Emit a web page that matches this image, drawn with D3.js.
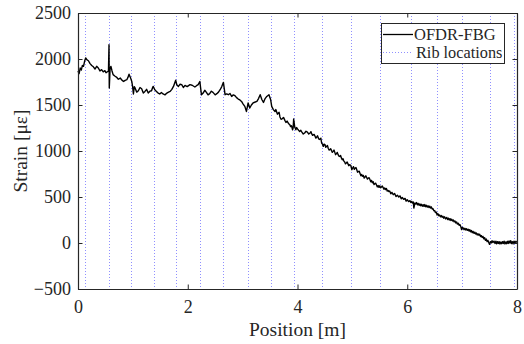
<!DOCTYPE html>
<html>
<head>
<meta charset="utf-8">
<script src="https://cdn.jsdelivr.net/npm/d3@7/dist/d3.min.js"></script>
<style>
  html, body { margin: 0; padding: 0; background: #fff; }
  svg { display: block; }
</style>
</head>
<body>
<svg id="chart" width="524" height="344"></svg>
<script>
// ---------- data ----------
const positions = [
  0.00,0.02,0.04,0.06,0.08,0.10,0.12,0.14,0.165,0.19,0.22,0.25,0.28,0.31,0.34,0.37,0.40,0.43,0.46,0.49,
  0.51,0.53,0.555,0.565,0.57,0.585,0.60,0.62,0.64,0.67,0.70,0.735,0.77,0.80,0.83,0.86,0.89,0.91,0.93,0.955,
  0.98,0.995,1.01,1.025,1.04,1.07,1.10,1.13,1.16,1.19,1.22,1.25,1.28,1.31,1.34,1.36,1.37,1.40,1.43,1.46,
  1.49,1.52,1.55,1.585,1.62,1.65,1.68,1.71,1.74,1.78,1.80,1.83,1.86,1.89,1.92,1.95,1.99,2.04,2.08,2.13,
  2.16,2.19,2.22,2.25,2.28,2.31,2.34,2.37,2.40,2.43,2.46,2.50,2.53,2.56,2.59,2.62,2.65,2.68,2.71,2.74,
  2.77,2.80,2.83,2.86,2.89,2.92,2.95,2.98,3.01,3.04,3.07,3.10,3.13,3.16,3.19,3.22,3.26,3.29,3.32,3.35,
  3.38,3.41,3.44,3.48,3.51,3.53,3.56,
  3.59,3.605,3.62,3.635,3.65,3.665,3.68,3.70,3.72,3.745,
  3.77,3.79,3.81,3.835,3.86,3.875,3.89,3.90,3.91,3.92,
  3.93,3.95,3.97,3.985,4.00,4.02,4.04,4.06,4.08,4.105,
  4.13,4.155,4.18,4.205,4.23,4.245,4.26,4.275,4.29,4.305,
  4.32,4.335,4.35,4.365,4.38,4.395,4.41,4.425,4.44,4.455,
  4.47,4.485,4.50,4.515,4.53,4.545,4.56,4.575,4.59,4.605,
  4.62,4.635,4.65,4.665,4.68,4.695,4.71,4.725,4.74,4.755,
  4.77,4.785,4.80,4.815,4.83,4.845,4.86,4.875,4.89,4.905,
  4.92,4.935,4.95,4.97,4.99,5.005,5.02,5.035,5.05,5.065,
  5.08,5.095,5.11,5.125,5.14,5.155,5.17,5.185,5.20,5.215,
  5.23,5.245,5.26,5.275,5.29,5.305,5.32,5.335,5.35,5.365,
  5.38,5.395,5.41,5.425,5.44,5.455,5.47,5.485,5.50,5.515,
  5.53,5.545,5.56,5.575,5.59,5.605,5.62,5.635,5.65,5.665,
  5.68,5.70,5.72,5.745,5.77,5.795,5.82,5.845,5.87,5.89,
  5.91,5.935,5.96,5.98,6.00,6.025,6.05,6.065,6.08,6.095,
  6.11,6.12,6.14,6.155,6.17,6.185,6.20,6.215,6.23,6.245,
  6.26,6.275,6.29,6.305,6.32,6.335,6.35,6.365,6.38,6.395,
  6.41,6.425,6.44,6.455,6.47,6.485,6.50,6.515,6.53,6.545,
  6.56,6.575,6.59,6.605,6.62,6.635,6.65,6.665,6.68,6.70,
  6.72,6.735,6.75,6.765,6.78,6.795,6.81,6.825,6.84,6.855,
  6.87,6.885,6.90,6.915,6.93,6.945,6.96,6.975,6.99,7.005,
  7.02,7.035,7.05,7.065,7.08,7.095,7.11,7.125,7.14,7.155,
  7.17,7.185,7.20,7.215,7.23,7.245,7.26,7.275,7.29,7.305,
  7.32,7.335,7.35,7.365,7.38,7.395,7.41,7.425,7.44,7.455,
  7.47,7.485,7.50,7.515,7.53,7.545,7.56,7.58,7.60,7.615,
  7.63,7.645,7.66,7.675,7.69,7.705,7.72,7.735,7.75,7.765,
  7.78,7.795,7.81,7.825,7.84,7.855,7.87,7.885,7.90,7.915,
  7.93,7.945,7.96,7.98,8.00
];
const strain = [
  1870,1840,1902,1880,1930,1920,1975,2011,1990,1981,1950,1930,1915,1891,1920,1902,1870,1884,1860,1873,
  1850,1859,1870,2155,1685,1900,1920,1870,1830,1815,1804,1780,1793,1770,1756,1768,1775,1800,1835,1800,
  1756,1700,1620,1700,1685,1640,1655,1690,1677,1630,1648,1670,1630,1650,1655,1690,1702,1665,1648,1630,
  1620,1635,1620,1610,1630,1640,1648,1670,1702,1770,1720,1702,1725,1721,1690,1713,1700,1721,1715,1696,
  1710,1721,1756,1610,1630,1660,1637,1610,1623,1650,1637,1610,1623,1640,1666,1700,1746,1612,1620,1612,
  1625,1593,1610,1601,1580,1565,1555,1539,1510,1485,1430,1522,1467,1500,1522,1530,1539,1570,1612,1560,
  1528,1570,1593,1612,1560,1485,1450,
  1430,1450,1425,1400,1413,1420,1370,1345,1350,1365,
  1333,1310,1325,1300,1286,1265,1275,1255,1231,1250,
  1348,1260,1231,1255,1240,1225,1213,1225,1205,1185,
  1196,1215,1205,1185,1196,1210,1185,1170,1177,1180,
  1160,1140,1152,1165,1140,1125,1130,1140,1087,1075,
  1050,1075,1070,1040,1050,1060,1030,1010,1014,1025,
  1005,985,996,1010,985,960,971,985,960,945,
  941,950,925,905,915,890,880,860,869,880,
  860,840,851,845,797,815,830,800,815,820,
  795,770,778,780,755,730,745,725,735,705,
  717,730,712,695,706,710,690,665,680,655,
  665,635,644,650,630,610,625,605,622,600,
  609,620,603,585,598,580,592,565,572,560,
  565,535,550,525,538,505,520,500,512,480,
  495,475,485,455,470,450,460,440,452,435,
  445,380,435,425,440,415,430,410,425,405,
  420,400,416,398,418,395,410,390,405,385,
  400,380,392,370,372,350,352,330,335,305,
  318,295,305,285,298,280,290,270,285,262,
  278,255,270,250,265,245,258,240,250,230,
  240,218,228,205,215,192,200,180,145,170,
  163,145,160,142,155,138,150,130,145,122,
  135,112,126,105,118,98,109,88,100,85,
  95,70,80,60,72,45,58,30,43,15,
  28,5,-15,15,0,25,5,20,-5,20,
  -8,15,-5,15,-10,10,-8,15,-5,20,
  -10,12,-8,18,-5,22,0,25,-5,15,
  -10,20,0,18,5
];
const ribLocations = [0.13,0.56,0.97,1.38,1.79,2.23,2.65,3.09,3.51,3.94,4.45,4.98,5.51,6.07,6.55,7.00,7.51,7.94];
const xTicks = [0,2,4,6,8];
const yTicks = [-500,0,500,1000,1500,2000,2500];
const seriesName = "OFDR-FBG";
const ribName = "Rib locations";

// ---------- layout ----------
const FONT = "'Liberation Serif'";
const svg = d3.select("#chart");
const L = 78, R = 517, T = 13, B = 289;
const x = d3.scaleLinear().domain([0, 8]).range([L, R]);
const y = d3.scaleLinear().domain([-500, 2500]).range([B, T]);
const axisColor = "#262626";
const ribColor = "#8f8fff";

// rib lines
svg.append("g").selectAll("line").data(ribLocations).join("line")
  .attr("x1", d => Math.round(x(d)) + 0.5).attr("x2", d => Math.round(x(d)) + 0.5)
  .attr("y1", T).attr("y2", B)
  .attr("stroke", ribColor).attr("stroke-width", 1)
  .attr("stroke-dasharray", "1,2");

// data line
const n = Math.min(positions.length, strain.length);
const data = d3.range(n).map(i => [positions[i], strain[i]]);
svg.append("path").datum(data)
  .attr("fill", "none").attr("stroke", "#000").attr("stroke-width", 1.4)
  .attr("stroke-linejoin", "round")
  .attr("d", d3.line().x(d => x(d[0])).y(d => y(d[1])));

// axes
const tickLen = 4.5;
const gB = svg.append("g").attr("transform", `translate(0,${B})`)
  .call(d3.axisBottom(x).tickValues(xTicks).tickFormat(d3.format("d")).tickSizeInner(-tickLen).tickSizeOuter(0).tickPadding(11));
const gT = svg.append("g").attr("transform", `translate(0,${T})`)
  .call(d3.axisTop(x).tickValues(xTicks).tickFormat("").tickSizeInner(-tickLen).tickSizeOuter(0));
const gL = svg.append("g").attr("transform", `translate(${L},0)`)
  .call(d3.axisLeft(y).tickValues(yTicks).tickFormat(d3.format("d")).tickSizeInner(-tickLen).tickSizeOuter(0).tickPadding(7));
const gR = svg.append("g").attr("transform", `translate(${R},0)`)
  .call(d3.axisRight(y).tickValues(yTicks).tickFormat("").tickSizeInner(-tickLen).tickSizeOuter(0));
[gB, gT, gL, gR].forEach(g => {
  g.attr("font-family", null).attr("font-size", null);
  g.select(".domain").attr("stroke", axisColor).attr("stroke-width", 1.2);
  g.selectAll(".tick line").attr("stroke", axisColor).attr("stroke-width", 1);
  g.selectAll("text").style("font-family", FONT).style("font-size", "18px").attr("fill", axisColor);
});
gB.selectAll("text").attr("dy", "0.71em");

// axis titles
svg.append("text").attr("x", (L + R) / 2).attr("y", 336)
  .attr("text-anchor", "middle").style("font-family", FONT).style("font-size", "19.5px")
  .attr("fill", axisColor).text("Position [m]");
svg.append("text").attr("transform", `translate(27,${(T + B) / 2}) rotate(-90)`)
  .attr("text-anchor", "middle").style("font-family", FONT).style("font-size", "19.5px")
  .attr("fill", axisColor).text("Strain [με]");

// legend
const lg = svg.append("g");
lg.append("rect").attr("x", 381.5).attr("y", 23.5).attr("width", 123).attr("height", 40)
  .attr("fill", "#fff").attr("stroke", axisColor).attr("stroke-width", 1);
lg.append("line").attr("x1", 383).attr("x2", 413).attr("y1", 34.5).attr("y2", 34.5)
  .attr("stroke", "#000").attr("stroke-width", 1.3);
lg.append("text").attr("x", 414).attr("y", 40).style("font-family", FONT).style("font-size", "16.5px")
  .attr("fill", axisColor).text(seriesName);
lg.append("line").attr("x1", 383).attr("x2", 413).attr("y1", 52.5).attr("y2", 52.5)
  .attr("stroke", ribColor).attr("stroke-width", 1).attr("stroke-dasharray", "1,2");
lg.append("text").attr("x", 416).attr("y", 58).style("font-family", FONT).style("font-size", "16.3px")
  .attr("fill", axisColor).text(ribName);
</script>
</body>
</html>
